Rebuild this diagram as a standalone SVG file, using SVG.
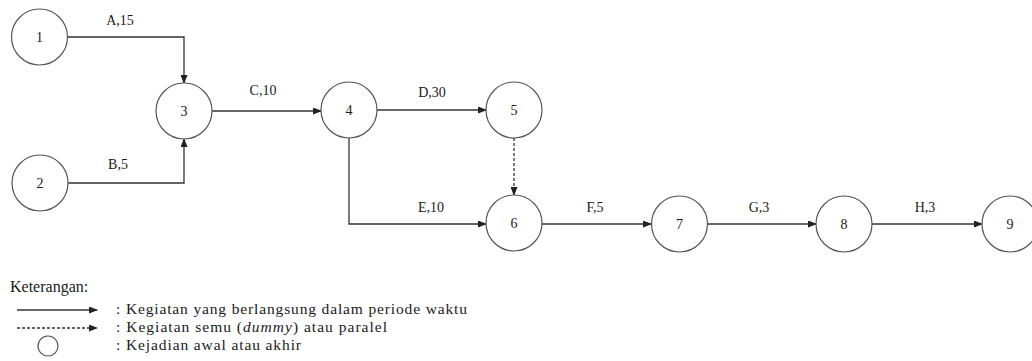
<svg xmlns="http://www.w3.org/2000/svg" width="1032" height="361" viewBox="0 0 1032 361">
<defs>
<style>
.node circle{fill:#fff;stroke:#555;stroke-width:1.2}
.edge{fill:none;stroke:#333;stroke-width:1.3}
.dash{stroke-dasharray:3,2}
</style>
<marker id="ah" markerWidth="9" markerHeight="7" refX="8" refY="3.5" orient="auto" markerUnits="userSpaceOnUse">
<path d="M0,0 L9,3.5 L0,7 z" fill="#222"/>
</marker>
</defs>
<rect width="1032" height="361" fill="#fff"/>
<g id="connectors" font-family="'Liberation Serif', 'Times New Roman', serif" font-size="14" fill="#1a1a1a" text-anchor="middle">
<path class="edge" d="M67,37 H184 V83" marker-end="url(#ah)"/>
<path class="edge" d="M68,183 H184 V139" marker-end="url(#ah)"/>
<path class="edge" d="M212,111 H321" marker-end="url(#ah)"/>
<path class="edge" d="M377,110 H486" marker-end="url(#ah)"/>
<path class="edge dash" d="M514,138 V195" marker-end="url(#ah)"/>
<path class="edge" d="M349,138 V224 H486" marker-end="url(#ah)"/>
<path class="edge" d="M542,224 H651" marker-end="url(#ah)"/>
<path class="edge" d="M707,224 H816" marker-end="url(#ah)"/>
<path class="edge" d="M872,224 H982" marker-end="url(#ah)"/>
<text x="120" y="25">A,15</text>
<text x="118" y="169">B,5</text>
<text x="263" y="95">C,10</text>
<text x="432" y="97">D,30</text>
<text x="431" y="212">E,10</text>
<text x="595" y="212">F,5</text>
<text x="759" y="212">G,3</text>
<text x="925" y="212">H,3</text>
</g>
<g font-family="'Liberation Serif', 'Times New Roman', serif" font-size="14" fill="#1a1a1a" text-anchor="middle">
<g id="node1" class="node"><circle cx="39.5" cy="37" r="28"/><text x="39.5" y="42">1</text></g>
<g id="node2" class="node"><circle cx="40" cy="183" r="28"/><text x="40" y="188">2</text></g>
<g id="node3" class="node"><circle cx="184" cy="111" r="28"/><text x="184" y="116">3</text></g>
<g id="node4" class="node"><circle cx="349" cy="110" r="28"/><text x="349" y="115">4</text></g>
<g id="node5" class="node"><circle cx="514" cy="110" r="28"/><text x="514" y="115">5</text></g>
<g id="node6" class="node"><circle cx="514" cy="223" r="28"/><text x="514" y="228">6</text></g>
<g id="node7" class="node"><circle cx="679.5" cy="224" r="28"/><text x="679.5" y="229">7</text></g>
<g id="node8" class="node"><circle cx="844" cy="224" r="28"/><text x="844" y="229">8</text></g>
<g id="node9" class="node"><circle cx="1010" cy="224" r="28"/><text x="1010" y="229">9</text></g>
</g>
<g id="legend" font-family="'Liberation Serif', 'Times New Roman', serif" font-size="15.5" fill="#1a1a1a">
<text x="10" y="292" font-size="16">Keterangan:</text>
<path class="edge" d="M17,310 H97" marker-end="url(#ah)"/>
<path class="edge dash" d="M17,328 H97" marker-end="url(#ah)"/>
<circle cx="48" cy="346" r="10" fill="#fff" stroke="#555" stroke-width="1.2"/>
<text x="116" y="314" textLength="351" lengthAdjust="spacing">: Kegiatan yang berlangsung dalam periode waktu</text>
<text x="116" y="332" textLength="271" lengthAdjust="spacing">: Kegiatan semu (<tspan font-style="italic">dummy</tspan>) atau paralel</text>
<text x="116" y="350" textLength="185" lengthAdjust="spacing">: Kejadian awal atau akhir</text>
</g>
</svg>
